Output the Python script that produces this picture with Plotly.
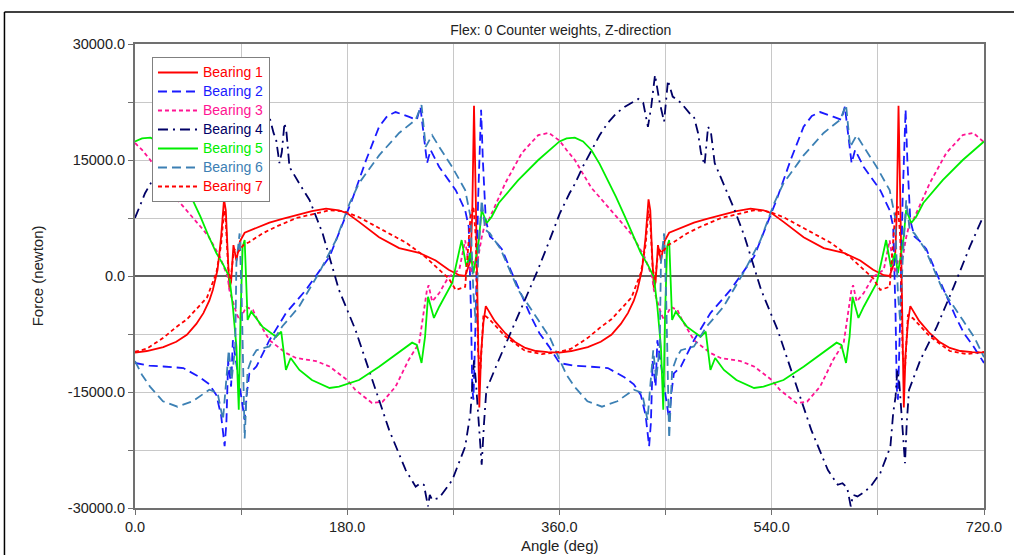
import plotly.graph_objects as go

# ---------------- data ----------------
B1_ANGLE = [0, 10, 24, 35, 44, 52, 58, 63, 66, 70, 73, 75.5, 77, 78.5, 80, 81.5, 83.5, 86, 89, 93,
            103, 114, 125, 137, 150, 162, 173, 180, 190, 207, 224, 241, 255, 266, 275, 280, 284.5, 286, 287.5, 289,
            290.5, 292, 293.5, 295.5, 297.5, 305, 314, 322, 331, 340, 350,
            360, 370, 384, 395, 404, 412, 418, 423, 426, 430, 433, 435.5, 437, 438.5, 440, 441.5, 443.5, 446, 449, 453,
            463, 474, 485, 497, 510, 522, 533, 540, 550, 567, 584, 601, 615, 626, 635, 640, 644.5, 646, 647.5, 649,
            650.5, 652, 653.5, 655.5, 657.5, 665, 674, 682, 691, 700, 710, 720]
B1_FORCE = [-9900, -9700, -9200, -8500, -7600, -6200, -4800, -3200, -1800, 800, 5000, 9900, 8500, 3000, -1500, -800, 4000, 2000, 4500, 5600,
            6200, 6900, 7400, 7900, 8400, 8700, 8500, 8100, 7000, 5000, 3600, 3000, 2000, 800, 100, 0, 2000, 8000, 22000, 10000,
            -5000, -17000, -10000, -6000, -3900, -5800, -7400, -8500, -9300, -9700, -9850,
            -9900, -9700, -9200, -8500, -7600, -6200, -4800, -3200, -1800, 800, 5000, 9900, 8500, 3000, -1500, -800, 4000, 2000, 4500, 5600,
            6200, 6900, 7400, 7900, 8400, 8700, 8500, 8100, 7000, 5000, 3600, 3000, 2000, 800, 100, 0, 2000, 8000, 22000, 10000,
            -5000, -17000, -10000, -6000, -3900, -5800, -7400, -8500, -9300, -9700, -9850, -9900]

B2_ANGLE = [0, 12, 24, 41, 55, 63, 69, 73, 76, 77.5, 79, 81.5, 83, 85, 88, 90.5, 93, 95, 97, 103,
            114, 128, 145, 165, 173, 184, 196, 207, 214, 221, 232, 239, 242, 245, 247.7, 250.7, 258, 272, 280, 283,
            285, 286, 287, 289, 291, 293.5, 295, 297.5, 301, 305, 311, 319.6, 328, 336, 343, 351,
            360, 372, 384, 401, 415, 423, 429, 433, 436, 437.5, 439, 441.5, 443, 445, 448, 450.5, 453, 455, 457, 463,
            474, 488, 505, 525, 533, 544, 556, 567, 574, 581, 592, 599, 602, 605, 607.7, 610.7, 618, 632, 640, 643,
            645, 646, 647, 649, 651, 653.5, 655, 657.5, 661, 665, 671, 679.6, 688, 696, 703, 711, 720]
B2_FORCE = [-11250, -11600, -11700, -11900, -13100, -14000, -15400, -18000, -22000, -19000, -11000, -14300, -8300, -10500, -13400, -16000, -18600, -15000, -12600, -11700,
            -8300, -4800, -1800, 2500, 5500, 9800, 15000, 19300, 20700, 21200, 20600, 20200, 21900, 18000, 14600, 16300, 14100, 11100, 8500, 6400,
            -5000, -14500, -16000, -5000, 10000, 21500, 15000, 7200, 5100, 4600, 3500, 400, -2500, -5300, -7400, -9100,
            -11250, -11600, -11700, -11900, -13100, -14000, -15400, -18000, -22000, -19000, -11000, -14300, -8300, -10500, -13400, -16000, -18600, -15000, -12600, -11700,
            -8300, -4800, -1800, 2500, 5500, 9800, 15000, 19300, 20700, 21200, 20600, 20200, 21900, 18000, 14600, 16300, 14100, 11100, 8500, 6400,
            -5000, -14500, -16000, -5000, 10000, 21500, 15000, 7200, 5100, 4600, 3500, 400, -2500, -5300, -7400, -9100, -11250]

B3_ANGLE = [0, 6, 13, 20, 27, 34, 41, 48, 55.5, 62, 69, 72, 78.6, 80, 86, 88.7, 94.4, 100, 104, 114,
            128, 136.6, 153.5, 165, 180, 187, 201, 210, 221, 232, 241, 245, 247.6, 249, 252, 258, 266, 275, 280, 283,
            285, 287, 290, 294, 297, 300, 314, 328, 342, 351,
            360, 366, 373, 380, 387, 394, 401, 408, 415.5, 422, 429, 432, 438.6, 440, 446, 448.7, 454.4, 460, 464, 474,
            488, 496.6, 513.5, 525, 540, 547, 561, 570, 581, 592, 601, 605, 607.6, 609, 612, 618, 626, 635, 640, 643,
            645, 647, 650, 654, 657, 660, 674, 688, 702, 711, 720]
B3_FORCE = [17200, 16300, 15000, 13200, 11400, 10200, 9000, 7700, 6400, 5200, 3300, 2500, -100, -1800, -4800, -5700, -4000, -4400, -5700, -8300,
            -9960, -10600, -11000, -11700, -13450, -14740, -16420, -16250, -14300, -10860, -8660, -4800, -1800, -1200, -3300, -2200, -100, 800, 4600, 1500,
            400, 2000, 1500, 5000, 6850, 7240, 12000, 15900, 18230, 18500,
            17500, 16300, 15000, 13200, 11400, 10200, 9000, 7700, 6400, 5200, 3300, 2500, -100, -1800, -4800, -5700, -4000, -4400, -5700, -8300,
            -9960, -10600, -11000, -11700, -13450, -14740, -16420, -16250, -14300, -10860, -8660, -4800, -1800, -1200, -3300, -2200, -100, 800, 4600, 1500,
            400, 2000, 1500, 5000, 6850, 7240, 12000, 15900, 18230, 18500, 17300]

B4_ANGLE = [0, 8.5, 13, 20, 27, 34, 41, 48, 55.5, 62, 66.8, 71, 75, 77.8, 81, 85, 88.7, 92, 96, 103,
            111.6, 114, 117.5, 119.7, 122.5, 124.5, 126.8, 128.5, 131, 140, 148, 159, 167, 173, 187, 201, 215.5, 229.6, 238, 242,
            245, 248.5, 250, 252, 258, 269, 280, 284.5, 286, 287.5, 289, 291.5, 294, 296, 298, 308.5, 319.5, 331, 340.6, 350.7,
            360, 368.5, 373, 380, 387, 394, 401, 408, 415.5, 422, 426.8, 431, 435, 437.8, 441, 445, 448.7, 452, 456, 463,
            471.6, 474, 477.5, 480, 483, 486, 488.5, 491.6, 500, 508.5, 517, 525, 531, 545, 559, 573.5, 587.6, 596, 600, 604,
            607, 609, 612.7, 618, 623.7, 632, 640.6, 643, 645, 646.5, 648, 650.7, 653, 654.5, 656.4, 666, 680, 694.4, 708, 718, 720]
B4_FORCE = [7500, 10700, 11900, 14200, 16300, 18200, 19800, 21000, 21900, 22500, 22900, 22400, 19300, 21900, 26000, 22400, 19950, 25300, 23200, 22400,
            20800, 20600, 18500, 17600, 14600, 16000, 19800, 18500, 14100, 11800, 9830, 5560, 1200, -1810, -6980, -13450, -19900, -25100, -27240, -26800,
            -27000, -29800, -28300, -28960, -28700, -26400, -22070, -17700, -14300, -10900, -13450, -19500, -24400, -19000, -14700, -10860, -6980, -3100, 390, 4270,
            8000, 10700, 11900, 14200, 16300, 18200, 19800, 21000, 21900, 22500, 22900, 22400, 19300, 21900, 26000, 22400, 19950, 25300, 23200, 22400,
            20800, 20600, 18500, 15900, 14350, 19300, 18500, 14600, 11540, 8530, 5080, 1200, -1810, -6980, -13450, -19900, -25100, -27000, -26800, -27400,
            -29800, -28300, -28500, -28000, -27240, -25500, -22100, -17700, -15600, -12150, -13450, -19500, -24200, -19000, -14740, -10860, -6550, -1380, 3790, 7240, 7500]

B5_ANGLE = [0, 6, 13, 20, 27, 34, 41, 48, 55.5, 62, 69, 75, 78, 80, 83, 86, 88, 89.5, 91.3, 93,
            95.5, 98.6, 108, 119.7, 124, 128, 132, 139.4, 150, 165, 173, 190, 207, 224, 235, 239, 243, 246, 248.5, 250,
            253.5, 258, 269, 277, 281, 284.5, 287, 291.6, 294, 298.3, 302.5, 308.5, 325, 342,
            360, 366, 373, 380, 387, 394, 401, 408, 415.5, 422, 429, 435, 438, 440, 443, 446, 448, 449.5, 451.3, 453,
            455.5, 458.6, 468, 479.7, 484, 488, 492, 499.4, 510, 525, 533, 550, 567, 584, 595, 599, 603, 606, 608.5, 610,
            613.5, 618, 629, 637, 641, 644.5, 647, 651.6, 654, 658.3, 662.5, 668.5, 685, 702, 720]
B5_FORCE = [17400, 17800, 17900, 17400, 16300, 14500, 12400, 10200, 7670, 5300, 2970, 1400, 400, -100, -4000, -9140, -17300, -5000, 3800, 4650,
            -5690, -4610, -6550, -7850, -7200, -12150, -10600, -12150, -13450, -14480, -14300, -13450, -11730, -9790, -8620, -8920, -11250, -7850, -2680, -3500,
            -5430, -3970, -900, 4650, 1200, 2970, 390, 4650, 8530, 6850, 7670, 9440, 12400, 15000,
            17400, 17800, 17900, 17400, 16300, 14500, 12400, 10200, 7670, 5300, 2970, 1400, 400, -100, -4000, -9140, -17300, -5000, 3800, 4650,
            -5690, -4610, -6550, -7850, -7200, -12150, -10600, -12150, -13450, -14480, -14300, -13450, -11730, -9790, -8620, -8920, -11250, -7850, -2680, -3500,
            -5430, -3970, -900, 4650, 1200, 2970, 390, 4650, 8530, 6850, 7670, 9440, 12400, 15000, 17400]

B6_ANGLE = [0, 6, 12.7, 23.7, 36, 49, 63, 70, 74.6, 77, 79.5, 82, 85, 86, 88.7, 90.5, 93, 95.5, 99.7, 103,
            114, 125, 139, 156, 170.5, 182, 190, 207, 224, 238, 243, 246.5, 252, 258, 269, 280, 284.5, 287, 289, 291,
            294, 297, 301, 310, 325, 342, 352,
            360, 366, 372.7, 383.7, 396, 409, 423, 430, 434.6, 437, 439.5, 442, 445, 446, 448.7, 450.5, 453, 455.5, 459.7, 463,
            474, 485, 499, 516, 530.5, 542, 550, 567, 584, 598, 603, 606.5, 612, 618, 629, 640, 644.5, 647, 649, 651,
            654, 657, 661, 670, 685, 702, 712, 720]
B6_FORCE = [-11000, -12800, -14300, -16200, -16900, -16200, -14700, -15100, -18600, -14000, -9600, -13400, -9100, 1700, 5500, -3000, -21000, -12200, -10400, -9600,
            -9100, -6500, -4000, 400, 4650, 9400, 12000, 15600, 18500, 20200, 22100, 16700, 18200, 16700, 14100, 11100, 7700, -2200, -6000, 2000,
            9800, 6000, 5500, 3500, -1800, -5700, -8000,
            -10800, -12800, -14300, -16200, -16900, -16200, -14700, -15100, -18600, -14000, -9600, -13400, -9100, 1700, 5500, -3000, -21000, -12200, -10400, -9600,
            -9100, -6500, -4000, 400, 4650, 9400, 12000, 15600, 18500, 20200, 22100, 16700, 18200, 16700, 14100, 11100, 7700, -2200, -6000, 2000,
            9800, 6000, 5500, 3500, -1800, -5700, -8000, -10500]

B7_ANGLE = [0, 10, 24, 35, 44, 52, 61, 69, 73, 75.5, 77, 79, 81, 84, 87, 92, 97, 108, 120, 137,
            150, 165, 175, 180, 190, 207, 230, 246, 258, 266, 272, 280, 284.5, 287, 289, 291, 293, 295.5, 300, 314,
            331, 345,
            360, 370, 384, 395, 404, 412, 421, 429, 433, 435.5, 437, 439, 441, 444, 447, 452, 457, 468, 480, 497,
            510, 525, 535, 540, 550, 567, 590, 606, 618, 626, 632, 640, 644.5, 647, 649, 651, 653, 655.5, 660, 674,
            691, 705, 720]
B7_FORCE = [-9800, -9400, -8000, -6600, -5600, -4300, -2800, 400, 4000, 8500, 7000, 1000, -500, 3500, 3000, 4000, 4400, 5500, 6400, 7500,
            8000, 8500, 8400, 8200, 7600, 6200, 4300, 2500, 800, -300, -1800, -1400, 7600, 9000, 5000, -10000, -12000, -5000, -5500, -7800,
            -9700, -10100,
            -9800, -9400, -8000, -6600, -5600, -4300, -2800, 400, 4000, 8500, 7000, 1000, -500, 3500, 3000, 4000, 4400, 5500, 6400, 7500,
            8000, 8500, 8400, 8200, 7600, 6200, 4300, 2500, 800, -300, -1800, -1400, 7600, 9000, 5000, -10000, -12000, -5000, -5500, -7800,
            -9700, -10100, -9800]

X_TICKS = [0, 90, 180, 270, 360, 450, 540, 630, 720]
X_TICK_TEXT = ["0.0", "", "180.0", "", "360.0", "", "540.0", "", "720.0"]
Y_TICKS = [-30000, -22500, -15000, -7500, 0, 7500, 15000, 22500, 30000]
Y_TICK_TEXT = ["-30000.0", "", "-15000.0", "", "0.0", "", "15000.0", "", "30000.0"]

SERIES = [
    ("Bearing 1", B1_ANGLE, B1_FORCE, "#FF0000", "solid"),
    ("Bearing 2", B2_ANGLE, B2_FORCE, "#1A1AFF", "9px,5px"),
    ("Bearing 3", B3_ANGLE, B3_FORCE, "#FF1493", "4px,3px"),
    ("Bearing 4", B4_ANGLE, B4_FORCE, "#000066", "10px,5px,2px,5px"),
    ("Bearing 5", B5_ANGLE, B5_FORCE, "#00EE00", "solid"),
    ("Bearing 6", B6_ANGLE, B6_FORCE, "#3C80B4", "9px,5px"),
    ("Bearing 7", B7_ANGLE, B7_FORCE, "#FF0000", "4px,3px"),
]

FONT = "Arial, Liberation Sans, sans-serif"

fig = go.Figure()
for name, ang, frc, col, dash in SERIES:
    fig.add_trace(go.Scatter(
        x=ang, y=frc, mode="lines",
        name='<span style="color:%s;font-size:14px">%s</span>' % (col, name),
        line=dict(color=col, width=1.8, dash=dash),
    ))

fig.update_layout(
    width=1014, height=555,
    margin=dict(l=135, r=27, t=44, b=47),
    paper_bgcolor="white", plot_bgcolor="white",
    font=dict(family=FONT, size=14, color="#222222"),
    title=dict(text="Flex: 0 Counter weights, Z-direction", x=0.553, xanchor="center",
               y=1 - 30 / 555, yanchor="middle", font=dict(family=FONT, size=14, color="#222222")),
    showlegend=True,
    legend=dict(x=0.02, y=0.972, xanchor="left", yanchor="top", bgcolor="white",
                bordercolor="#808080", borderwidth=1, font=dict(family=FONT, size=12),
                tracegroupgap=0, itemwidth=40),
    xaxis=dict(range=[0, 720], tickmode="array", tickvals=X_TICKS, ticktext=X_TICK_TEXT,
               showgrid=True, gridcolor="#C8C8C8", gridwidth=1, zeroline=False,
               showline=True, linecolor="#707070", linewidth=2, mirror=True,
               ticks="outside", ticklen=5, tickcolor="#707070", tickfont=dict(size=14.5)),
    yaxis=dict(range=[-30000, 30000], tickmode="array", tickvals=Y_TICKS, ticktext=Y_TICK_TEXT,
               showgrid=True, gridcolor="#C8C8C8", gridwidth=1, zeroline=True,
               zerolinecolor="#606060", zerolinewidth=2,
               showline=True, linecolor="#707070", linewidth=2, mirror=True,
               ticks="outside", ticklen=5, tickcolor="#707070", tickfont=dict(size=14.5)),
    annotations=[
        dict(text="Angle (deg)", xref="paper", yref="paper", x=0.5, y=(508 - 545) / 464,
             xanchor="center", yanchor="middle", showarrow=False, font=dict(size=15)),
        dict(text="Force (newton)", xref="paper", yref="paper", x=(37 - 135) / 852, y=0.5,
             xanchor="center", yanchor="middle", textangle=-90, showarrow=False, font=dict(size=15)),
    ],
    shapes=[
        dict(type="line", xref="paper", yref="paper", x0=(4 - 135) / 852, x1=1.2,
             y0=(508 - 12) / 464, y1=(508 - 12) / 464, line=dict(color="#000000", width=1.5)),
        dict(type="line", xref="paper", yref="paper", x0=(4 - 135) / 852, x1=(4 - 135) / 852,
             y0=(508 - 12) / 464, y1=-0.3, line=dict(color="#000000", width=1.5)),
    ],
)

fig.write_html("out.html")
